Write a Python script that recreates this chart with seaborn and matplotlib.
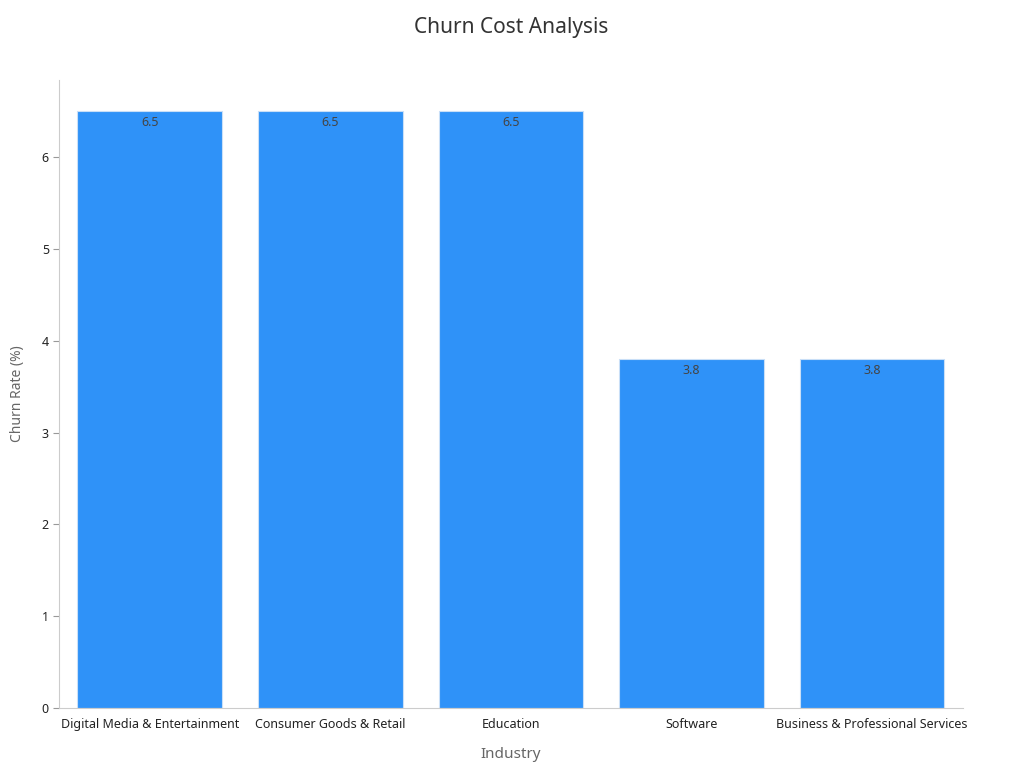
import matplotlib
matplotlib.use("Agg")
import matplotlib.pyplot as plt
import seaborn as sns
import pandas as pd

sns.set_style("white")
plt.rcParams['font.family'] = ['Noto Sans', 'DejaVu Sans']

industries = ["Digital Media & Entertainment", "Consumer Goods & Retail", "Education",
              "Software", "Business & Professional Services"]
churn_rate = [6.5, 6.5, 6.5, 3.8, 3.8]

df = pd.DataFrame({"Industry": industries, "Churn": churn_rate})

fig, ax = plt.subplots(figsize=(10.24, 7.68), dpi=100)
fig.subplots_adjust(left=0.058, right=0.94, bottom=0.078, top=0.896)

sns.barplot(data=df, x="Industry", y="Churn", color="#2f92f8", width=0.8,
            edgecolor="#c9dff7", linewidth=0.8, saturation=1, ax=ax)

for i, v in enumerate(churn_rate):
    ax.text(i, v - 0.05, f"{v}", ha="center", va="top", fontsize=9, color="#444444")

ax.set_xlim(-0.5, 4.5)
ax.set_ylim(0, 6.84)
ax.set_title("Churn Cost Analysis", fontsize=15, color="#333333", pad=34)
ax.set_xlabel("Industry", fontsize=11, color="#666666", labelpad=12)
ax.set_ylabel("Churn Rate (%)", fontsize=10, color="#666666", labelpad=12)
ax.tick_params(axis="both", labelsize=9, colors="#222222")
ax.tick_params(axis="y", left=True, length=4, color="#999999")
sns.despine(ax=ax)
for s in ["left", "bottom"]:
    ax.spines[s].set_color("#cccccc")

fig.savefig("out.png")
